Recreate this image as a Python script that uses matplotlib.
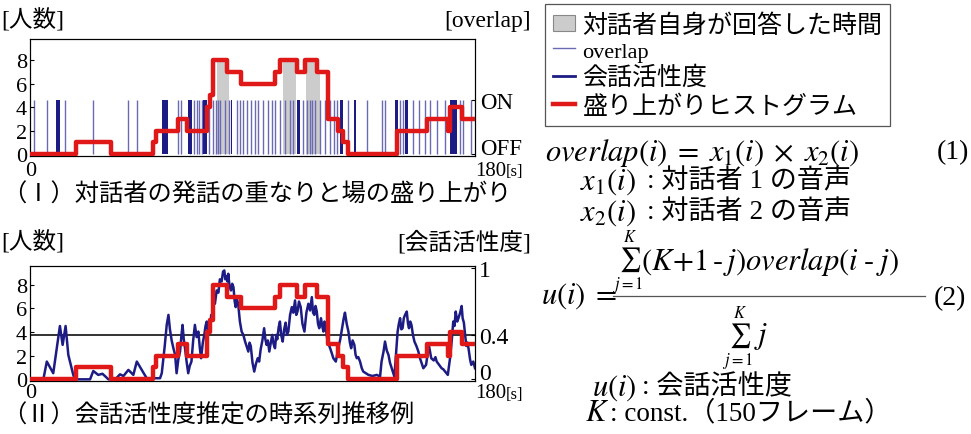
import numpy as np
import matplotlib
matplotlib.use('Agg')
import matplotlib.pyplot as plt
from matplotlib.patches import Patch
from matplotlib.lines import Line2D

plt.rcParams['font.family'] = ['Liberation Serif', 'Noto Sans CJK JP']
plt.rcParams['mathtext.fontset'] = 'stix'

# 盛り上がりヒストグラム (階段, 各区間の開始時刻[s] と人数)
hist_t = [0, 18.5, 32.8, 49.6, 50.8, 60.0, 63.4, 71.6, 72.8, 74.0, 79.6, 85.2, 99.1, 101.1,
          107.9, 111.2, 116.0, 120.5, 124.7, 126.7, 128.8, 148.3, 160.5, 169.0, 169.8, 174.6, 180]
hist_v = [0, 1, 0, 1, 2, 3, 2, 4, 5, 8, 7, 6, 7, 8,
          7, 8, 7, 3, 2, 1, 0, 2, 3, 2, 4, 3, 3]

# 対話者自身が回答した時間 [s]
answer_spans = [(75.5, 80.5), (102.5, 107.5), (111.5, 117.5)]

# overlap (ON の瞬間 / 連続区間)
overlap_times = [1.7, 6.8, 14.3, 25.6, 39.8, 43.1, 60.0, 61.0, 64.9, 66.5, 67.7, 68.4, 69.5,
                 72.5, 74.0, 75.2, 76.0, 77.0, 78.9, 80.5, 83.6, 85.0, 86.3, 87.7, 89.5, 91.0,
                 92.4, 94.4, 96.4, 97.8, 99.1, 101.1, 103.2, 105.2, 106.5, 110.6, 111.9, 113.3,
                 114.0, 115.3, 117.3, 119.3, 121.4, 123.0, 124.0, 128.8, 136.2, 142.4, 143.6,
                 149.7, 150.9, 155.0, 157.5, 159.8, 161.8, 164.5, 167.9, 174.0, 175.3, 178.5]
overlap_blocks = [(10.4, 12.2), (53.3, 56.0), (63.8, 65.6), (70.1, 71.5), (81.2, 81.9),
                  (107.9, 109.2), (125.4, 126.6), (131.2, 131.9), (147.7, 148.9),
                  (151.7, 152.9), (170.0, 172.6)]

# 会話活性度 u(i)
act_t = [0, 5.4, 6.8, 9.4, 12.1, 13.2, 14.4, 15.5, 17.5, 18.2,
         24.3, 25.6, 27.6, 29.3, 30.3, 31.7, 34.5, 36.4, 37.8, 39.8,
         41.8, 43.2, 45.2, 47.2, 49.2, 52.6, 53.3, 54.5, 55.3, 56.0,
         56.6, 57.3, 58.0, 58.7, 59.3, 60.0, 60.7, 61.2, 61.7, 62.2,
         62.7, 63.4, 64.0, 64.6, 65.3, 66.0, 66.7, 67.4, 68.1, 68.7,
         69.2, 69.9, 70.5, 71.0, 71.5, 72.1, 72.8, 73.3, 73.8, 74.3,
         74.8, 75.5, 76.2, 76.8, 77.5, 78.1, 78.6, 79.0, 79.5, 79.9,
         80.2, 80.7, 81.3, 81.8, 82.3, 82.8, 83.2, 83.7, 84.2, 84.9,
         85.6, 86.3, 87.0, 87.6, 88.3, 88.8, 89.3, 90.0, 90.7, 91.4,
         92.1, 92.7, 93.3, 94.0, 94.7, 95.2, 95.7, 96.2, 96.8, 97.4,
         98.0, 98.5, 99.1, 99.6, 100.0, 100.6, 101.1, 101.6, 102.2, 102.8,
         103.4, 103.9, 104.5, 105.2, 105.9, 106.5, 107.2, 107.7, 108.2, 108.8,
         109.5, 110.2, 111.0, 111.8, 112.6, 113.3, 114.0, 114.5, 115.0, 115.5,
         116.0, 116.5, 117.0, 117.7, 118.2, 118.7, 119.1, 119.5, 120.0, 120.4,
         121.4, 122.0, 122.7, 123.7, 124.2, 124.7, 125.5, 126.4, 126.9, 127.4,
         128.1, 128.8, 129.4, 129.9, 130.5, 131.2, 131.7, 132.2, 132.8, 133.5,
         134.2, 134.8, 136.9, 138.5, 140.3, 141.6, 142.2, 143.0, 143.6, 144.3,
         145.0, 145.6, 146.3, 147.4, 148.1, 148.7, 149.2, 149.7, 150.2, 150.7,
         151.2, 151.7, 152.4, 152.9, 153.3, 153.8, 154.3, 154.9, 155.5, 156.3,
         157.1, 157.6, 158.2, 159.1, 160.2, 160.8, 161.4, 162.3, 163.3, 164.0,
         164.5, 165.5, 166.5, 167.2, 167.9, 169.0, 169.9, 170.6, 171.2, 171.7,
         172.2, 172.8, 173.3, 174.0, 174.6, 175.0, 175.5, 176.0, 176.5, 177.0,
         177.5, 178.0, 178.5, 179.3, 180.0]
act_v = [0, 0, 0.16, 0.055, 0.48, 0.31, 0.48, 0.22, 0.04, 0,
         0, 0.075, 0.04, 0.05, 0.03, 0, 0, 0.045, 0.03, 0.085,
         0.04, 0.16, 0.085, 0.01, 0.01, 0.01, 0.055, 0.30, 0.49, 0.58,
         0.45, 0.35, 0.28, 0.22, 0.055, 0.18, 0.25, 0.38, 0.49, 0.36,
         0.28, 0.15, 0.055, 0.12, 0.16, 0.35, 0.49, 0.38, 0.43, 0.28,
         0.19, 0.33, 0.40, 0.48, 0.52, 0.42, 0.46, 0.58, 0.55, 0.70,
         0.68, 0.80, 0.78, 0.90, 0.88, 0.97, 0.98, 0.90, 0.93, 0.88,
         0.95, 0.84, 0.80, 0.86, 0.83, 0.70, 0.65, 0.72, 0.68, 0.52,
         0.43, 0.40, 0.34, 0.30, 0.25, 0.33, 0.30, 0.15, 0.07, 0.14,
         0.19, 0.16, 0.27, 0.35, 0.46, 0.36, 0.31, 0.35, 0.25, 0.33,
         0.40, 0.32, 0.28, 0.40, 0.36, 0.47, 0.52, 0.40, 0.34, 0.45,
         0.51, 0.40, 0.43, 0.58, 0.65, 0.60, 0.71, 0.58, 0.61, 0.70,
         0.65, 0.50, 0.43, 0.60, 0.68, 0.62, 0.74, 0.60, 0.58, 0.66,
         0.61, 0.50, 0.46, 0.55, 0.48, 0.43, 0.52, 0.49, 0.40, 0.34,
         0.28, 0.24, 0.19, 0.16, 0.22, 0.28, 0.36, 0.48, 0.55, 0.60,
         0.50, 0.43, 0.33, 0.28, 0.35, 0.31, 0.22, 0.19, 0.20, 0.16,
         0.10, 0.07, 0.04, 0.03, 0.04, 0.024, 0.16, 0.25, 0.34, 0.26,
         0.22, 0.15, 0.10, 0.024, 0.25, 0.43, 0.50, 0.55, 0.45, 0.46,
         0.55, 0.58, 0.61, 0.50, 0.46, 0.52, 0.49, 0.40, 0.34, 0.30,
         0.25, 0.20, 0.16, 0.10, 0.13, 0.22, 0.30, 0.19, 0.17, 0.20,
         0.16, 0.13, 0.10, 0.09, 0.07, 0.04, 0.19, 0.35, 0.52, 0.48,
         0.61, 0.52, 0.55, 0.60, 0.66, 0.55, 0.51, 0.40, 0.30, 0.33,
         0.26, 0.18, 0.13, 0.16, 0.10]
act_threshold = 0.4

RED = '#e01818'
NAVY = '#1c1c84'
LIGHT = '#6a6ab4'
GRAY = '#cccccc'

W, H = 971, 435


def box(l, t, r, b):
    return [l / W, 1 - b / H, (r - l) / W, (b - t) / H]


def fx(x):
    return x / W


def fy(y):
    return 1 - y / H


fig = plt.figure(figsize=(W / 100, H / 100), dpi=100)

# ---------------- (I) ----------------
ax1 = fig.add_axes(box(30, 40, 475, 157))
ax1b = ax1.twinx()
ax1.set_zorder(ax1b.get_zorder() + 1)
ax1.patch.set_visible(False)

on_level = 4.6
ax1.set_xlim(0, 180)
ax1.set_ylim(-0.15, 9.8)
ax1b.set_ylim(-0.15 / on_level, 9.8 / on_level)

ht = np.array(hist_t)
hv = np.array(hist_v)
for a, b in answer_spans:
    inner = [t for t in hist_t if a < t < b]
    xs = [a] + inner + [b]
    ys = [hv[np.searchsorted(ht, x, side='right') - 1] for x in xs]
    ax1b.fill_between(xs, 0, ys, step='post', color=GRAY, lw=0,
                      transform=ax1.transData, zorder=1)

ax1b.vlines(overlap_times, 0, 1, color=LIGHT, lw=1.0, zorder=2)
ax1b.broken_barh([(a, b - a) for a, b in overlap_blocks], (0, 1),
                 color=NAVY, lw=0, zorder=2)

ax1.step(hist_t, hist_v, where='post', color=RED, lw=3.2, zorder=3)

ax1.set_yticks([0, 2, 4, 6, 8])
ax1.set_xticks([])
ax1.tick_params(axis='y', direction='in', length=3, pad=2, labelsize=16)
ax1b.set_yticks([0, 1], ['OFF', 'ON'])
ax1b.tick_params(axis='y', direction='in', length=3, pad=4, labelsize=16.5)
ax1b.get_yticklabels()[0].set_va('baseline')

# ---------------- (II) ----------------
ax2 = fig.add_axes(box(30, 267, 475, 382))
ax2b = ax2.twinx()
ax2.set_zorder(ax2b.get_zorder() + 1)
ax2.patch.set_visible(False)
ax2.set_xlim(0, 180)
ax2.set_ylim(-0.15, 9.6)
ax2b.set_ylim(-0.015, 1.02)

ax2b.axhline(act_threshold, color='#222222', lw=1.3, zorder=1)
ax2b.plot(act_t, act_v, color=NAVY, lw=1.8, zorder=2)
ax2.step(hist_t, hist_v, where='post', color=RED, lw=3.2, zorder=3)

ax2.set_yticks([0, 2, 4, 6, 8])
ax2.set_xticks([])
ax2.tick_params(axis='y', direction='in', length=3, pad=2, labelsize=16)
ax2b.set_yticks([0, 0.4, 1], ['0', '0.4', '1'])
ax2b.tick_params(axis='y', direction='in', length=3, pad=3, labelsize=17)
ax2b.get_yticklabels()[0].set_va('baseline')

# axis labels
for y_top, y_bot, right_label in [(21, 171, '[overlap]'), (243, 394, '[会話活性度]')]:
    fig.text(fx(1), fy(y_top), '[人数]', fontsize=17, ha='left', va='center')
    fig.text(fx(531), fy(y_top), right_label, fontsize=17, ha='right', va='center')
    fig.text(fx(31), fy(y_bot), '0', fontsize=16, ha='center', va='center')
    fig.text(fx(506), fy(y_bot), '180', fontsize=15, ha='right', va='center')
    fig.text(fx(506), fy(y_bot + 1), '[s]', fontsize=12, ha='left', va='center')

fig.text(fx(2), fy(195), '（Ⅰ）対話者の発話の重なりと場の盛り上がり', fontsize=17.5,
         family='Noto Sans CJK JP', ha='left', va='center')
fig.text(fx(2), fy(416), '（Ⅱ）会話活性度推定の時系列推移例', fontsize=17.5,
         family='Noto Sans CJK JP', ha='left', va='center')

# legend
handles = [Patch(facecolor=GRAY, edgecolor='#888888', lw=0.8),
           Line2D([], [], color=LIGHT, lw=1.0),
           Line2D([], [], color=NAVY, lw=2.0),
           Line2D([], [], color=RED, lw=3.2)]
labels = ['対話者自身が回答した時間', 'overlap', '会話活性度', '盛り上がりヒストグラム']
leg = fig.legend(handles, labels, loc='upper left', bbox_to_anchor=(fx(545), fy(5)),
                 frameon=True, fancybox=False, edgecolor='#555555', framealpha=1,
                 borderpad=0.3, handlelength=0.9, handleheight=0.6, handletextpad=0.3,
                 labelspacing=0.1, borderaxespad=0,
                 prop={'family': 'Noto Sans CJK JP', 'size': 18})
leg.get_frame().set_linewidth(0.9)
leg.get_texts()[1].set_family('Liberation Serif')
leg.get_texts()[1].set_fontsize(16)

# equations
MATH = 22
CJK = 19.5
SUM = 17
fig.text(fx(545), fy(153), r'$overlap(i)\;=\;x_1(i)\;\times\;x_2(i)$', fontsize=MATH,
         ha='left', va='center')
fig.text(fx(969), fy(153), '(1)', fontsize=20, ha='right', va='center')
for y, sym, desc in [(182, r'$x_1(i)$', ': 対話者 1 の音声'),
                     (213, r'$x_2(i)$', ': 対話者 2 の音声')]:
    fig.text(fx(580), fy(y), sym, fontsize=MATH, ha='left', va='center')
    fig.text(fx(647), fy(y), desc, fontsize=CJK, ha='left', va='center')

# (2)
fig.text(fx(541), fy(296), r'$u(i)\;=$', fontsize=MATH, ha='left', va='center')
fig.text(fx(628), fy(263), r'$\sum_{j=1}^{K}$', fontsize=SUM, ha='center', va='center')
fig.text(fx(641), fy(262), r'$(K\!+\!1\,\text{-}\,j)overlap(i\;\text{-}\;j)$',
         fontsize=MATH, ha='left', va='center')
fig.add_artist(Line2D([fx(613), fx(925)], [fy(297), fy(297)], color='#555555', lw=0.9))
fig.text(fx(738), fy(339), r'$\sum_{j=1}^{K}$', fontsize=SUM, ha='center', va='center')
fig.text(fx(754), fy(337), r'$j$', fontsize=MATH, ha='left', va='center')
fig.text(fx(966), fy(299), '(2)', fontsize=20, ha='right', va='center')

fig.text(fx(592), fy(388), r'$u(i)$', fontsize=MATH, ha='left', va='center')
fig.text(fx(642), fy(388), ': 会話活性度', fontsize=CJK, ha='left', va='center')
fig.text(fx(585), fy(414), r'$K$', fontsize=MATH, ha='left', va='center')
fig.text(fx(610), fy(414), ': const.（150フレーム）', fontsize=CJK, ha='left', va='center')

fig.savefig('out.png', dpi=100)
